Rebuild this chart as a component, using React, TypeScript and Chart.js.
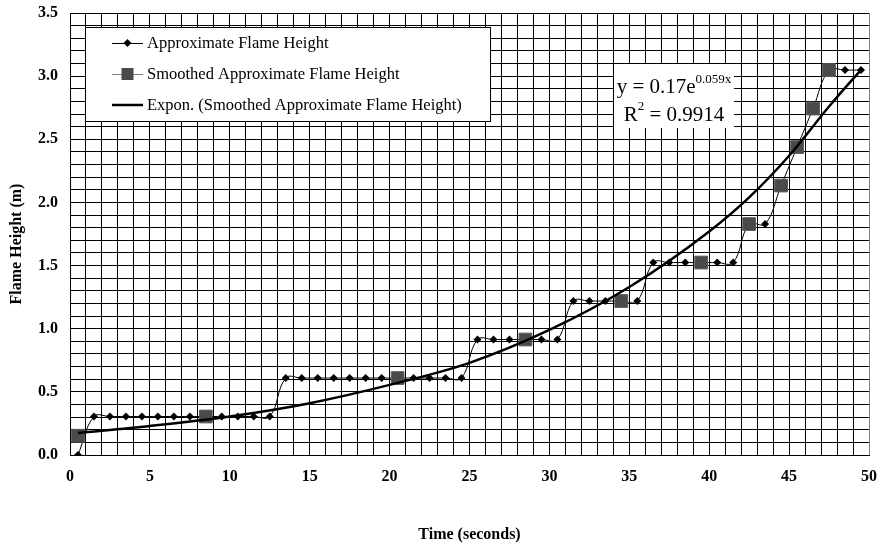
import React, { useEffect, useRef } from 'react';
import { Chart, registerables } from 'chart.js';

Chart.register(...registerables);

// ---- Data ----
const timeSeconds = [
  0.5, 1.5, 2.5, 3.5, 4.5, 5.5, 6.5, 7.5, 8.5, 9.5,
  10.5, 11.5, 12.5, 13.5, 14.5, 15.5, 16.5, 17.5, 18.5, 19.5,
  20.5, 21.5, 22.5, 23.5, 24.5, 25.5, 26.5, 27.5, 28.5, 29.5,
  30.5, 31.5, 32.5, 33.5, 34.5, 35.5, 36.5, 37.5, 38.5, 39.5,
  40.5, 41.5, 42.5, 43.5, 44.5, 45.5, 46.5, 47.5, 48.5, 49.5,
];
const approxHeight = [
  0, 0.3048, 0.3048, 0.3048, 0.3048, 0.3048, 0.3048, 0.3048, 0.3048, 0.3048,
  0.3048, 0.3048, 0.3048, 0.6096, 0.6096, 0.6096, 0.6096, 0.6096, 0.6096, 0.6096,
  0.6096, 0.6096, 0.6096, 0.6096, 0.6096, 0.9144, 0.9144, 0.9144, 0.9144, 0.9144,
  0.9144, 1.2192, 1.2192, 1.2192, 1.2192, 1.2192, 1.524, 1.524, 1.524, 1.524,
  1.524, 1.524, 1.8288, 1.8288, 2.1336, 2.4384, 2.7432, 3.048, 3.048, 3.048,
];
const smoothedTime = [0.5, 8.5, 20.5, 28.5, 34.5, 39.5, 42.5, 44.5, 45.5, 46.5, 47.5];
const smoothedHeight = [0.1524, 0.3048, 0.6096, 0.9144, 1.2192, 1.524, 1.8288, 2.1336, 2.4384, 2.7432, 3.048];
const trendTime = [0.5, 5, 10, 15, 20, 25, 30, 35, 40, 42.5, 45, 47.5, 49.5];
const trendHeight = [0.175, 0.23, 0.305, 0.41, 0.555, 0.73, 0.99, 1.33, 1.77, 2.04, 2.37, 2.76, 3.05];

const seriesLabels = [
  'Approximate Flame Height',
  'Smoothed Approximate Flame Height',
  'Expon. (Smoothed Approximate Flame Height)',
];
const equationMain = 'y = 0.17e';
const equationExp = '0.059x';
const rSquaredText = '0.9914';
const xTitle = 'Time (seconds)';
const yTitle = 'Flame Height (m)';

const SERIF = "'Liberation Serif', 'Times New Roman', serif";

const overlayPlugin = {
  id: 'overlay',
  afterDraw(chart: any) {
    const ctx = chart.ctx as CanvasRenderingContext2D;
    const area = chart.chartArea;
    ctx.save();
    // Axis titles
    ctx.fillStyle = '#000';
    ctx.font = `bold 16px ${SERIF}`;
    ctx.textAlign = 'center';
    ctx.textBaseline = 'middle';
    ctx.fillText(xTitle, (area.left + area.right) / 2, 535);
    ctx.save();
    ctx.translate(17, 244);
    ctx.rotate(-Math.PI / 2);
    ctx.fillText(yTitle, 0, 0);
    ctx.restore();

    // Legend box
    const lx = 85, ly = 27, lw = 405, lh = 94;
    ctx.fillStyle = '#fff';
    ctx.fillRect(lx, ly, lw, lh);
    ctx.strokeStyle = '#000';
    ctx.lineWidth = 1;
    ctx.strokeRect(lx + 0.5, ly + 0.5, lw, lh);
    const rows = [43, 74, 105];
    ctx.font = `16.5px ${SERIF}`;
    ctx.textBaseline = 'middle';
    ctx.textAlign = 'left';
    rows.forEach((ry, i) => {
      const x0 = 112, x1 = 143, xm = 127.5;
      if (i === 0) {
        ctx.strokeStyle = '#000';
        ctx.lineWidth = 1;
        ctx.beginPath(); ctx.moveTo(x0, ry + 0.5); ctx.lineTo(x1, ry + 0.5); ctx.stroke();
        ctx.fillStyle = '#000';
        ctx.beginPath();
        ctx.moveTo(xm, ry - 4); ctx.lineTo(xm + 4, ry); ctx.lineTo(xm, ry + 4); ctx.lineTo(xm - 4, ry);
        ctx.closePath(); ctx.fill();
      } else if (i === 1) {
        ctx.strokeStyle = '#808080';
        ctx.lineWidth = 1;
        ctx.beginPath(); ctx.moveTo(x0, ry + 0.5); ctx.lineTo(x1, ry + 0.5); ctx.stroke();
        ctx.fillStyle = '#4a4a4a';
        ctx.fillRect(xm - 6, ry - 6, 12, 12);
      } else {
        ctx.strokeStyle = '#000';
        ctx.lineWidth = 2.5;
        ctx.beginPath(); ctx.moveTo(x0, ry); ctx.lineTo(x1, ry); ctx.stroke();
      }
      ctx.fillStyle = '#000';
      ctx.fillText(seriesLabels[i], 147, ry + 1);
    });

    // Equation box
    const ex = 614, ey = 64, ew = 120, eh = 64;
    ctx.fillStyle = '#fff';
    ctx.fillRect(ex, ey, ew, eh);
    ctx.fillStyle = '#000';
    ctx.textBaseline = 'alphabetic';
    const big = `21px ${SERIF}`;
    const small = `13px ${SERIF}`;
    ctx.font = big;
    const w1 = ctx.measureText(equationMain).width;
    ctx.font = small;
    const w2 = ctx.measureText(equationExp).width;
    const cx = ex + ew / 2;
    const sx = cx - (w1 + w2) / 2;
    ctx.font = big;
    ctx.fillText(equationMain, sx, 93);
    ctx.font = small;
    ctx.fillText(equationExp, sx + w1, 83);
    ctx.font = big;
    const rA = 'R';
    const rB = ' = ' + rSquaredText;
    const wa = ctx.measureText(rA).width;
    const wb = ctx.measureText(rB).width;
    ctx.font = small;
    const ws = ctx.measureText('2').width;
    const rx = cx - (wa + ws + wb) / 2;
    ctx.font = big;
    ctx.fillText(rA, rx, 121);
    ctx.font = small;
    ctx.fillText('2', rx + wa, 110);
    ctx.font = big;
    ctx.fillText(rB, rx + wa + ws, 121);
    ctx.restore();
  },
};

export default function App() {
  const canvasRef = useRef<HTMLCanvasElement | null>(null);

  useEffect(() => {
    if (!canvasRef.current) return;
    const approxData = timeSeconds.map((t, i) => ({ x: t, y: approxHeight[i] }));
    const smoothData = smoothedTime.map((t, i) => ({ x: t, y: smoothedHeight[i] }));
    const trendData = trendTime.map((t, i) => ({ x: t, y: trendHeight[i] }));

    const chart = new Chart(canvasRef.current, {
      type: 'line',
      data: {
        datasets: [
          {
            label: seriesLabels[0],
            data: approxData,
            borderColor: '#000',
            borderWidth: 1,
            tension: 0.4,
            pointStyle: 'rectRot',
            pointRadius: 4,
            pointBackgroundColor: '#000',
            pointBorderColor: '#000',
            pointBorderWidth: 0,
            order: 2,
          },
          {
            label: seriesLabels[1],
            data: smoothData,
            showLine: false,
            pointStyle: 'rect',
            pointRadius: 9,
            pointBackgroundColor: '#4a4a4a',
            pointBorderColor: '#5a5a5a',
            pointBorderWidth: 1,
            order: 1,
          },
          {
            label: seriesLabels[2],
            data: trendData,
            borderColor: '#000',
            borderWidth: 2.5,
            pointRadius: 0,
            cubicInterpolationMode: 'monotone',
            order: 0,
          },
        ],
      },
      options: {
        responsive: false,
        animation: false,
        layout: { padding: { top: 13, right: 10, left: 0, bottom: 0 } },
        plugins: {
          legend: { display: false },
          tooltip: { enabled: false },
        },
        scales: {
          x: {
            type: 'linear',
            min: 0,
            max: 50,
            afterFit: (s: any) => { s.height = 91; s.paddingLeft = 0; s.paddingRight = 0; },
            border: { color: '#000', width: 1 },
            grid: {
              color: (c: any) => (c.tick && c.tick.value === 50 ? '#808080' : '#000'),
              lineWidth: 1,
              drawTicks: false,
            },
            ticks: {
              stepSize: 1,
              autoSkip: false,
              maxRotation: 0,
              padding: 12,
              color: '#000',
              font: { family: SERIF, size: 16, weight: 'bold' },
              callback: (v: any) => (Math.round(v) % 5 === 0 ? String(Math.round(v)) : ''),
            },
          },
          y: {
            type: 'linear',
            min: 0,
            max: 3.5,
            afterFit: (s: any) => { s.width = 70; s.paddingTop = 0; s.paddingBottom = 0; },
            border: { color: '#000', width: 1 },
            grid: { color: '#000', lineWidth: 1, drawTicks: false },
            ticks: {
              stepSize: 0.1,
              autoSkip: false,
              padding: 12,
              color: '#000',
              font: { family: SERIF, size: 16, weight: 'bold' },
              callback: (v: any) => {
                const t = Math.round(v * 10);
                return t % 5 === 0 ? (t / 10).toFixed(1) : '';
              },
            },
          },
        },
      },
      plugins: [overlayPlugin],
    } as any);
    return () => chart.destroy();
  }, []);

  return (
    <div style={{ position: 'absolute', left: 0, top: 0, width: 879, height: 546, background: '#fff' }}>
      <canvas ref={canvasRef} width={879} height={546} />
    </div>
  );
}
